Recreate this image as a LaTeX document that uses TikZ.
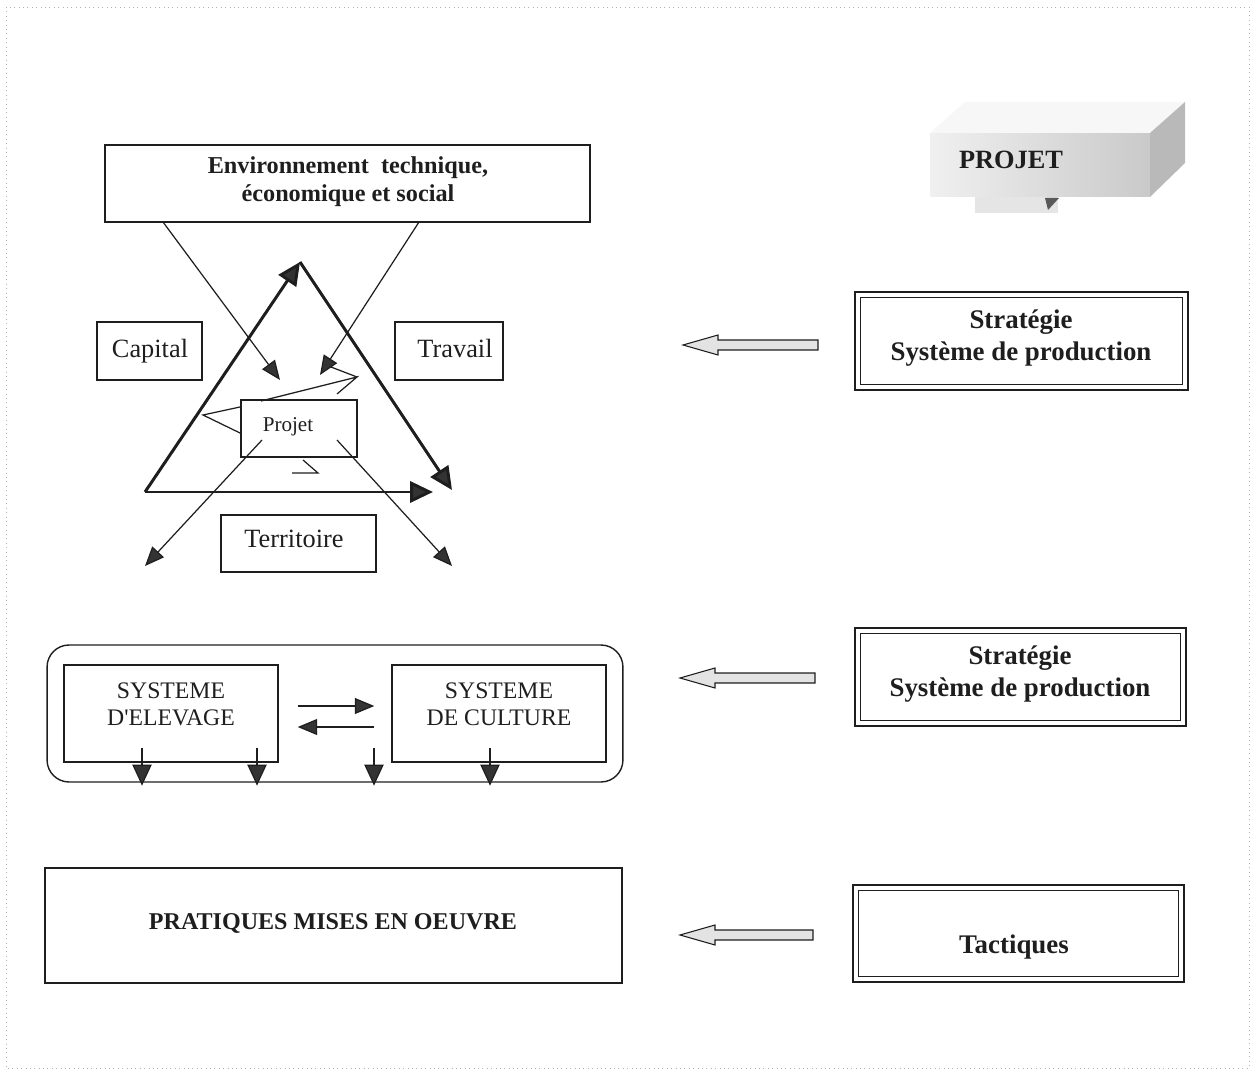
\documentclass[tikz,border=0pt]{standalone}
\usepackage{fontspec}
\setmainfont{Liberation Serif}
\usetikzlibrary{arrows.meta}
\definecolor{ink}{HTML}{1E1E1E}
\definecolor{headc}{HTML}{333333}
\newcommand{\fEnv}{\fontsize{13.8}{15.9}\selectfont\bfseries}
\newcommand{\fBig}{\fontsize{15}{17}\selectfont}
\newcommand{\fSmall}{\fontsize{12}{14}\selectfont}
\newcommand{\fSys}{\fontsize{13.5}{15.3}\selectfont}
\newcommand{\fStrat}{\fontsize{15.3}{18}\selectfont\bfseries}
\newcommand{\fPrat}{\fontsize{13.7}{16}\selectfont\bfseries}
\newcommand{\fProjet}{\fontsize{15}{17}\selectfont\bfseries}
\begin{document}
\begin{tikzpicture}[x=0.02cm,y=-0.02cm,
  box/.style={draw=ink,line width=0.8pt,inner sep=0pt},
  outerbox/.style={draw=ink,line width=1.5pt,inner sep=0pt},
  innerline/.style={draw=ink,line width=0.7pt},
  txt/.style={inner sep=0pt,text=ink,align=center},
  thickarrow/.style={draw=ink,line width=1.7pt,-{Triangle[length=13pt,width=12pt,fill=headc]}},
  thinarrow/.style={draw=ink,line width=0.7pt,-{Triangle[length=11pt,width=9pt,fill=headc]}},
  downarrow/.style={draw=ink,line width=0.7pt,-{Triangle[length=12pt,width=11pt,fill=headc]}},
  midarrow/.style={draw=ink,line width=0.7pt,-{Triangle[length=11pt,width=9pt,fill=headc]}},
  openline/.style={draw=ink,line width=0.7pt,line join=miter},
  hollow/.style={draw=ink,line width=0.6pt,fill=gray!22,line join=miter}
]
\useasboundingbox (0,0) rectangle (1252,1071);
% page frame
\draw[gray!60,dotted,line width=0.5pt] (6,7) rectangle (1249,1068);

% ---------- PROJET 3D callout ----------
\fill[gray!6] (930,133) -- (965,102) -- (1185,102) -- (1150,133) -- cycle;
\node[inner sep=0pt,minimum width=4.4cm,minimum height=1.28cm,left color=gray!12,right color=gray!42] (projbox) at (1040,165) {};
\fill[gray!55] (1150,133) -- (1185,102) -- (1185,163) -- (1150,197) -- cycle;
\fill[gray!20] (975,197) rectangle (1058,213);
\fill[gray!70!black] (1045,198) -- (1059,198) -- (1048,210) -- cycle;
\node[txt,font=\fProjet] (projt) at (1011,160) {PROJET};

% ---------- top diagram ----------
\node[box,minimum width=9.7cm,minimum height=1.54cm] (env) at (347.5,183.5) {};
\node[txt,font=\fEnv] (envt) at (348,182) {Environnement\ \ technique,\\économique et social};

\node[box,minimum width=2.1cm,minimum height=1.16cm] (cap) at (149.5,351) {};
\node[txt,font=\fBig] (capt) at (150,351) {Capital};
\node[box,minimum width=2.16cm,minimum height=1.16cm] (trav) at (449,351) {};
\node[txt,font=\fBig] (travt) at (455,348) {Travail};
\node[box,minimum width=2.32cm,minimum height=1.14cm] (proj) at (299,428.5) {};
\node[txt,font=\fSmall] (projtt) at (288,427) {Projet};
\node[box,minimum width=3.1cm,minimum height=1.14cm] (terr) at (298.5,543.5) {};
\node[txt,font=\fBig] (terrt) at (294,539) {Territoire};

% triangle
\coordinate (tA) at (145,492);
\coordinate (tB) at (300,262);
\coordinate (tC) at (452,490);
\coordinate (tD) at (433,492);
\draw[thickarrow] (tA) -- (tB);
\draw[thickarrow] (tB) -- (tC);
\draw[thickarrow] (tA) -- (tD);

% environment influences
\coordinate (e1) at (163,222);
\coordinate (e2) at (419,222);
\coordinate (c1) at (280,380);
\coordinate (c2) at (320,375);
\draw[thinarrow] (e1) -- (c1);
\draw[thinarrow] (e2) -- (c2);

% projet outward
\coordinate (p1) at (262,440);
\coordinate (p2) at (337,440);
\coordinate (o1) at (145,566);
\coordinate (o2) at (452,566);
\draw[thinarrow] (p1) -- (o1);
\draw[thinarrow] (p2) -- (o2);

% open rotation arrows around Projet
\draw[openline] (261,401) -- (357,377) -- (337,394);
\draw[openline] (331,367) -- (357,377);
\draw[openline] (240,407) -- (203,415) -- (240,433);
\draw[openline] (292,473) -- (318,473) -- (303,460);

% ---------- systems ----------
\node[box,rounded corners=0.44cm,minimum width=11.52cm,minimum height=2.74cm] (cont) at (335,713.5) {};
\node[box,minimum width=4.28cm,minimum height=1.94cm] (elev) at (171,713.5) {};
\node[txt,font=\fSys] (elevt) at (171,704) {SYSTEME\\D\textquotesingle ELEVAGE};
\node[box,minimum width=4.28cm,minimum height=1.94cm] (cult) at (499,713.5) {};
\node[txt,font=\fSys] (cultt) at (499,704) {SYSTEME\\DE CULTURE};
\draw[midarrow] ([shift={(19,-7.5)}]elev.east) -- ([shift={(-17,-7.5)}]cult.west);
\draw[midarrow] ([shift={(-17,13.5)}]cult.west) -- ([shift={(19,13.5)}]elev.east);
\draw[downarrow] ([shift={(-29,-15)}]elev.south) -- ++(0,38);
\draw[downarrow] ([shift={(86,-15)}]elev.south) -- ++(0,38);
\draw[downarrow] ([shift={(-125,-15)}]cult.south) -- ++(0,38);
\draw[downarrow] ([shift={(-9,-15)}]cult.south) -- ++(0,38);

% ---------- pratiques ----------
\node[box,minimum width=11.54cm,minimum height=2.3cm] (prat) at (333.5,925.5) {};
\node[txt,font=\fPrat] (pratt) at (333,923) {PRATIQUES MISES EN OEUVRE};

% ---------- right column ----------
\node[outerbox,minimum width=6.66cm,minimum height=1.96cm] (s1) at (1021.5,341) {};
\draw[innerline] ([shift={(7,7)}]s1.north west) rectangle ([shift={(-7,-7)}]s1.south east);
\node[txt,font=\fStrat] (s1t) at (1021,338) {Stratégie\\Système de production};

\node[outerbox,minimum width=6.62cm,minimum height=1.96cm] (s2) at (1020.5,677) {};
\draw[innerline] ([shift={(7,7)}]s2.north west) rectangle ([shift={(-7,-7)}]s2.south east);
\node[txt,font=\fStrat] (s2t) at (1020,674) {Stratégie\\Système de production};

\node[outerbox,minimum width=6.62cm,minimum height=1.94cm] (s3) at (1018.5,933.5) {};
\draw[innerline] ([shift={(7,7)}]s3.north west) rectangle ([shift={(-7,-7)}]s3.south east);
\node[txt,font=\fStrat] (s3t) at (1014,947) {Tactiques};

% hollow arrows
\coordinate (h1) at (683,345);
\coordinate (h2) at (680,678);
\coordinate (h3) at (680,935);
\draw[hollow] (h1) -- ++(35,-10) -- ++(0,5) -- ++(100,0) -- ++(0,10) -- ++(-100,0) -- ++(0,5) -- cycle;
\draw[hollow] (h2) -- ++(35,-10) -- ++(0,5) -- ++(100,0) -- ++(0,10) -- ++(-100,0) -- ++(0,5) -- cycle;
\draw[hollow] (h3) -- ++(35,-10) -- ++(0,5) -- ++(98,0) -- ++(0,10) -- ++(-98,0) -- ++(0,5) -- cycle;
\end{tikzpicture}
\end{document}
